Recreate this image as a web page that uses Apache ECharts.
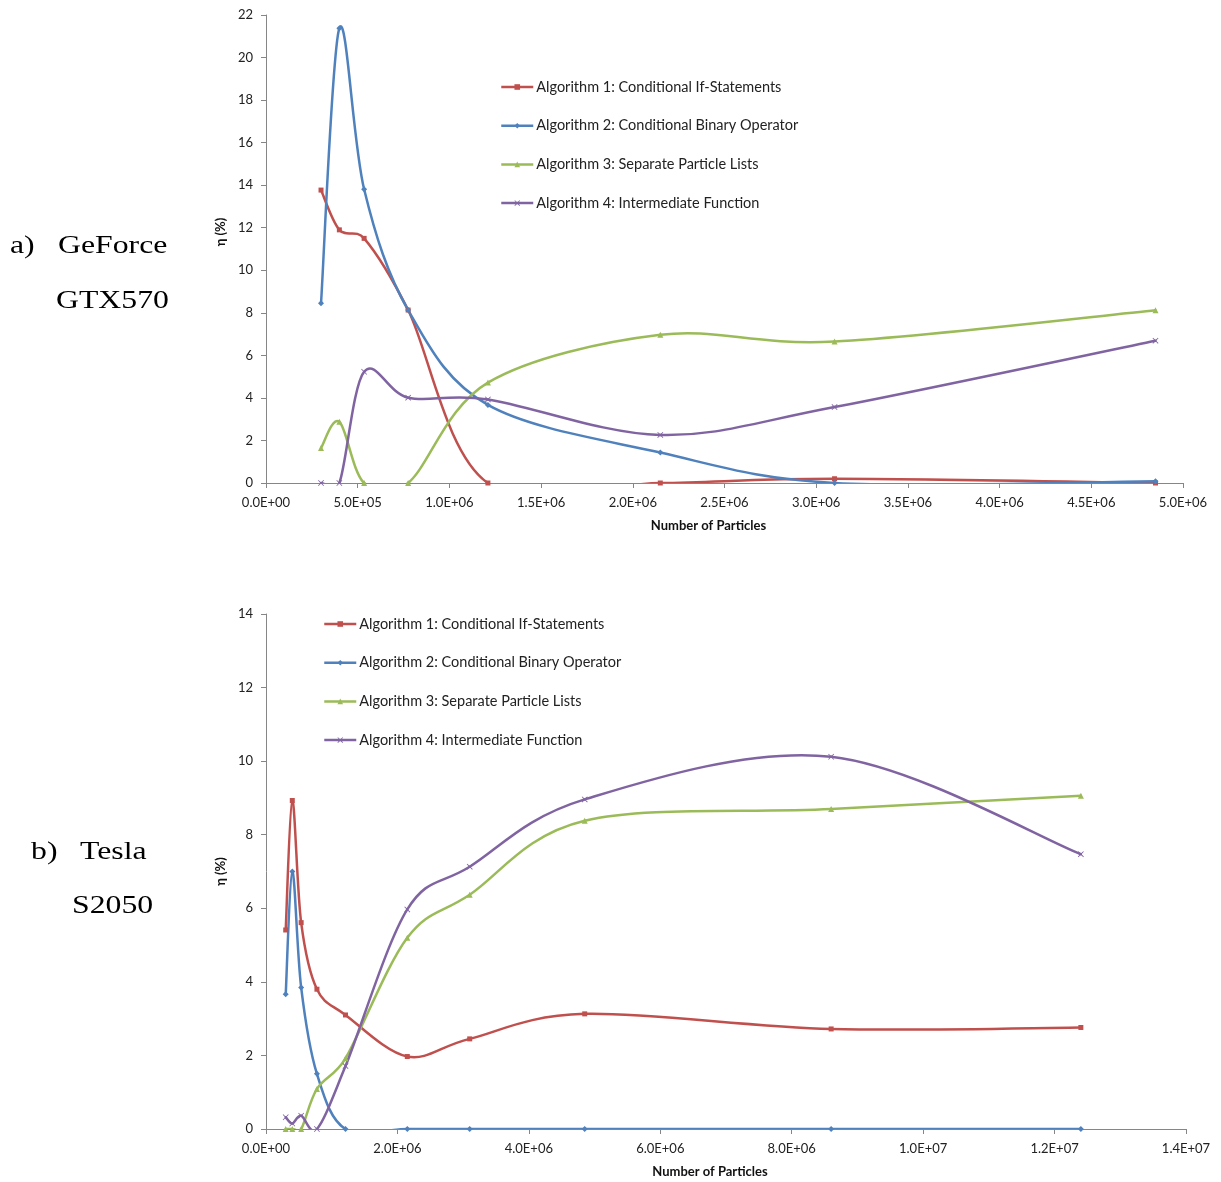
<!DOCTYPE html>
<html>
<head>
<meta charset="utf-8">
<title>Algorithm efficiency vs number of particles</title>
<script src="https://cdn.jsdelivr.net/npm/echarts@6/dist/echarts.min.js"></script>
<style>
  html, body { margin: 0; padding: 0; background: #fff; }
  #chart { width: 1221px; height: 1182px; }
</style>
</head>
<body>
<div id="chart"></div>
<script>
// Particle counts used in the runs
const particles = [3.0e5, 4.0e5, 5.35e5, 7.75e5, 1.21e6, 2.15e6, 3.1e6, 4.85e6, 8.6e6, 1.24e7];

// a) GeForce GTX570 (first eight particle counts), efficiency eta in %
const gtxAlg1 = [13.77, 11.9, 11.5, 8.13, 0, 0, 0.2, 0];
const gtxAlg2 = [8.45, 21.38, 13.81, 8.13, 3.67, 1.43, 0, 0.08];
const gtxAlg3 = [1.64, 2.88, 0, 0, 4.72, 6.97, 6.65, 8.12];
const gtxAlg4 = [0, 0, 5.23, 4.01, 3.93, 2.26, 3.57, 6.69];

// b) Tesla S2050 (all ten particle counts), efficiency eta in %
const teslaAlg1 = [5.41, 8.93, 5.61, 3.8, 3.1, 1.97, 2.45, 3.13, 2.72, 2.76];
const teslaAlg2 = [3.66, 7.0, 3.85, 1.5, 0, 0, 0, 0, 0, 0];
const teslaAlg3 = [0, 0, 0, 1.09, 1.92, 5.2, 6.37, 8.38, 8.7, 9.06];
const teslaAlg4 = [0.32, 0.15, 0.36, 0, 1.71, 5.97, 7.13, 8.96, 10.12, 7.47];

const seriesNames = [
  'Algorithm 1: Conditional If-Statements',
  'Algorithm 2: Conditional Binary Operator',
  'Algorithm 3: Separate Particle Lists',
  'Algorithm 4: Intermediate Function'
];

const colors = ['#C0504D', '#4F81BD', '#9BBB59', '#8064A2'];
const symbols = [
  'rect',
  'diamond',
  'triangle',
  'path://M0,1L1,0L5,4L9,0L10,1L6,5L10,9L9,10L5,6L1,10L0,9L4,5Z'
];
const symbolSizes = [5, 6, 6, 6];
const LINE_W = 2.5;

// "0.0E+00" style labels
function sci(v) {
  if (v === 0) return '0.0E+00';
  let e = Math.floor(Math.log10(v) + 1e-9);
  let m = v / Math.pow(10, e);
  let ms = m.toFixed(1);
  if (ms === '10.0') { e += 1; ms = '1.0'; }
  return ms + 'E+' + String(e).padStart(2, '0');
}

function pairs(ys) {
  return ys.map((y, i) => [particles[i], y]);
}

// Smoothed curve through the data points (cubic Bezier segments whose
// control points follow the neighbouring points, capped at half a segment).
function splineRenderer(points, color) {
  return function (params, api) {
    if (params.dataIndex !== 0) return null;
    const P = points.map(p => api.coord(p));
    const n = P.length;
    const dist = (a, b) => Math.hypot(b[0] - a[0], b[1] - a[1]);
    const children = [];
    for (let i = 0; i < n - 1; i++) {
      const p0 = P[i - 1] || P[i];
      const p1 = P[i];
      const p2 = P[i + 1];
      const p3 = P[i + 2] || P[i + 1];
      const d12 = dist(p1, p2);
      const d02 = dist(p0, p2);
      const d13 = dist(p1, p3);
      let f1 = 1 / 6, f2 = 1 / 6;
      if (d02 * f1 > d12 / 2) f1 = (d12 / 2) / d02;
      if (d13 * f2 > d12 / 2) f2 = (d12 / 2) / d13;
      children.push({
        type: 'bezierCurve',
        shape: {
          x1: p1[0], y1: p1[1],
          x2: p2[0], y2: p2[1],
          cpx1: p1[0] + (p2[0] - p0[0]) * f1,
          cpy1: p1[1] + (p2[1] - p0[1]) * f1,
          cpx2: p2[0] - (p3[0] - p1[0]) * f2,
          cpy2: p2[1] - (p3[1] - p1[1]) * f2
        },
        style: { stroke: color, lineWidth: LINE_W, fill: 'none', lineCap: 'round' },
        silent: true
      });
    }
    return { type: 'group', children };
  };
}

const tickFont = { fontFamily: 'Lato', fontSize: 13, color: '#222' };
const axisLineStyle = { color: '#868686', width: 1 };

function makeSeries(dataSets, axisIndex) {
  const out = [];
  dataSets.forEach((ys, k) => {
    const pts = pairs(ys);
    // curve
    out.push({
      type: 'custom',
      xAxisIndex: axisIndex,
      yAxisIndex: axisIndex,
      data: pts,
      encode: { x: 0, y: 1 },
      clip: true,
      silent: true,
      z: 2,
      renderItem: splineRenderer(pts, colors[k])
    });
  });
  dataSets.forEach((ys, k) => {
    // markers (and legend entry)
    out.push({
      name: seriesNames[k],
      type: 'line',
      xAxisIndex: axisIndex,
      yAxisIndex: axisIndex,
      data: pairs(ys),
      symbol: symbols[k],
      symbolSize: symbolSizes[k],
      showSymbol: true,
      color: colors[k],
      lineStyle: { color: colors[k], width: LINE_W, opacity: 0 },
      itemStyle: { color: colors[k] },
      z: 3
    });
  });
  return out;
}

function xAxisDef(gridIndex, max, interval) {
  return {
    type: 'value',
    gridIndex,
    min: 0,
    max,
    interval,
    name: 'Number of Particles',
    nameLocation: 'middle',
    nameGap: 36,
    nameTextStyle: { fontFamily: 'Lato', fontSize: 13, fontWeight: 'bold', color: '#111', padding: [0, 32, 0, 0] },
    axisLine: { show: true, onZero: false, lineStyle: axisLineStyle },
    axisTick: { show: true, inside: false, length: 5, lineStyle: axisLineStyle },
    axisLabel: { ...tickFont, margin: 13, formatter: sci, showMaxLabel: true, showMinLabel: true },
    splitLine: { show: false }
  };
}

function yAxisDef(gridIndex, max, nameGap, namePad) {
  return {
    type: 'value',
    gridIndex,
    min: 0,
    max,
    interval: 2,
    name: 'η (%)',
    nameLocation: 'middle',
    nameRotate: 90,
    nameGap,
    nameTextStyle: { fontFamily: 'Lato', fontSize: 13, fontWeight: 'bold', color: '#111', padding: namePad },
    axisLine: { show: true, lineStyle: axisLineStyle },
    axisTick: { show: true, inside: false, length: 5, lineStyle: axisLineStyle },
    axisLabel: { ...tickFont, margin: 13 },
    splitLine: { show: false }
  };
}

function legendDef(left, top) {
  return {
    orient: 'vertical',
    left,
    top,
    padding: 0,
    itemWidth: 32,
    itemHeight: 7,
    itemGap: 22.7,
    selectedMode: false,
    data: seriesNames,
    lineStyle: { width: LINE_W, opacity: 1 },
    textStyle: { fontFamily: 'Lato', fontSize: 14.5, color: '#222', lineHeight: 16, padding: [0, 0, 0, -2] }
  };
}

const serif = '25px "Liberation Serif", "Times New Roman", serif';
function label(text, x, y) {
  return {
    type: 'text',
    x, y,
    scaleX: 1.27,
    style: { text, font: serif, fill: '#000', textVerticalAlign: 'middle', textAlign: 'left' }
  };
}

const chart = echarts.init(document.getElementById('chart'), null, { renderer: 'canvas' });
chart.setOption({
  animation: false,
  backgroundColor: '#ffffff',
  grid: [
    { left: 266, top: 15, width: 917, height: 468, outerBoundsMode: 'none' },
    { left: 266, top: 614, width: 920, height: 515, outerBoundsMode: 'none' }
  ],
  xAxis: [xAxisDef(0, 5e6, 5e5), xAxisDef(1, 1.4e7, 2e6)],
  yAxis: [yAxisDef(0, 22, 26, [0, 0, 0, 34]), yAxisDef(1, 14, 36, [0, 0, 0, 0])],
  legend: [legendDef(500, 79), legendDef(323, 616)],
  graphic: [
    label('a)', 10, 246),
    label('GeForce', 58, 246),
    label('GTX570', 56, 301),
    label('b)', 31, 852),
    label('Tesla', 80, 852),
    label('S2050', 72, 906)
  ],
  series: [
    ...makeSeries([gtxAlg1, gtxAlg2, gtxAlg3, gtxAlg4], 0),
    ...makeSeries([teslaAlg1, teslaAlg2, teslaAlg3, teslaAlg4], 1)
  ]
});
</script>
</body>
</html>
